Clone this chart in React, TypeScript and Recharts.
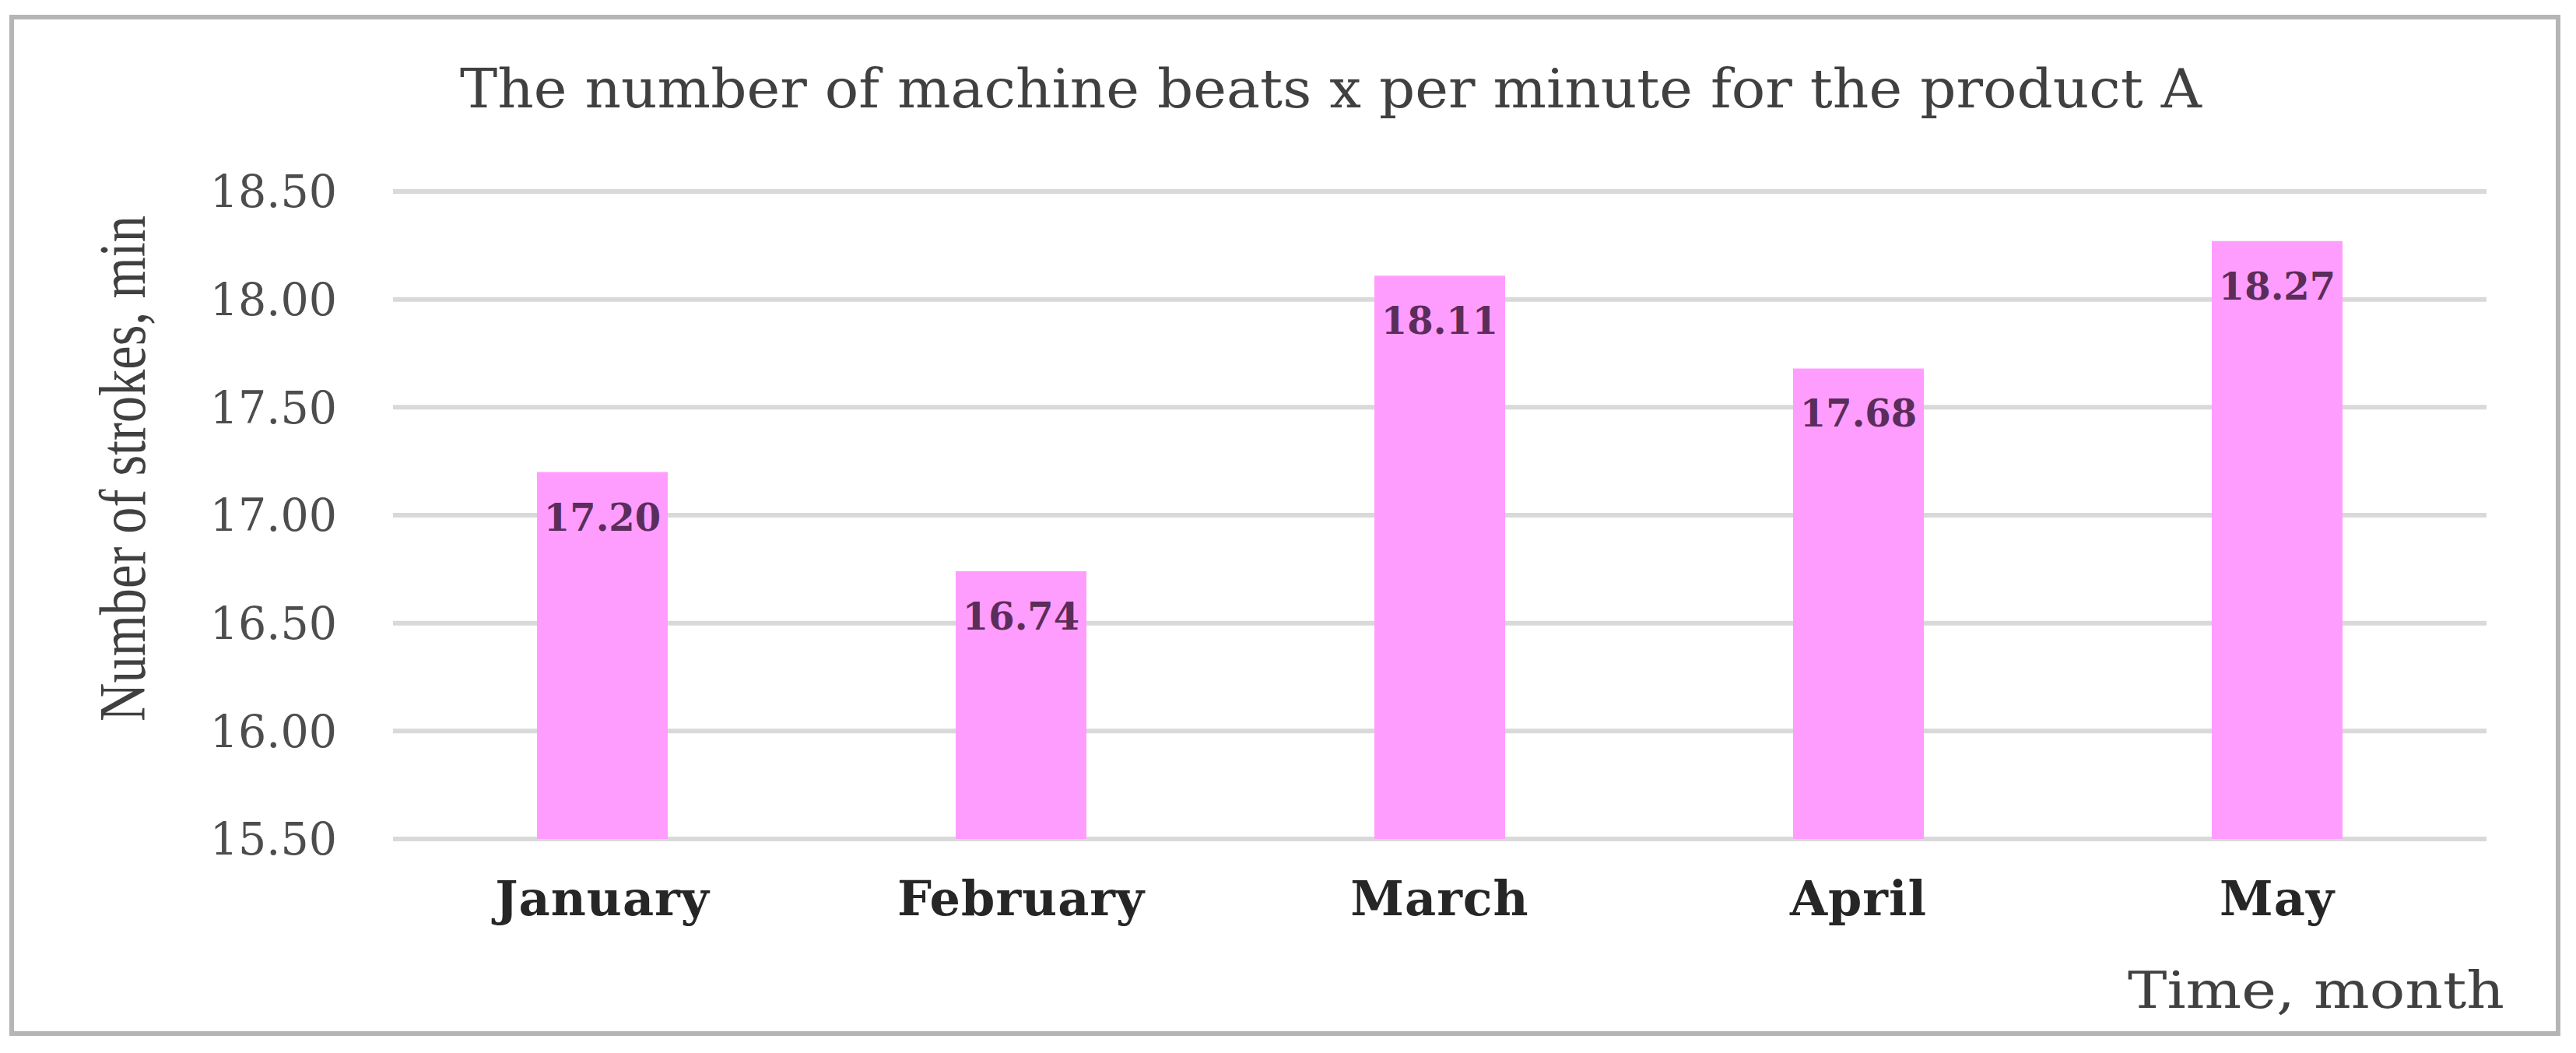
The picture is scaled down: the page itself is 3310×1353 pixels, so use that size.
import React from 'react';
import { BarChart, Bar, XAxis, YAxis, CartesianGrid, LabelList } from 'recharts';

const months = ['January', 'February', 'March', 'April', 'May'];
const strokes = [17.2, 16.74, 18.11, 17.68, 18.27];
const yTicks = [15.5, 16, 16.5, 17, 17.5, 18, 18.5];

const chartTitle = 'The number of machine beats x per minute for the product A';
const yTitle = 'Number of strokes, min';
const xTitle = 'Time, month';

const W = 3310;
const H = 1353;

const data = months.map((m, i) => ({ month: m, value: strokes[i] }));

const serif = '"Liberation Serif", "DejaVu Serif", serif';
const wideSerif = '"DejaVu Serif", serif';

// value printed inside the top of each bar
const renderValue = (props: any) => {
    const { x, y, width, value } = props;
    return (
        <text
            x={Number(x) + Number(width) / 2}
            y={Number(y) + 75}
            textAnchor="middle"
            fontFamily={wideSerif}
            fontWeight="bold"
            fontSize={48}
            fill="#5a2d5a"
        >
            {Number(value).toFixed(2)}
        </text>
    );
};

export default function App() {
    return (
        <div style={{ position: 'absolute', left: 0, top: 0, width: W, height: H, background: '#fff' }}>
            <div
                style={{
                    position: 'absolute',
                    left: 12,
                    top: 19,
                    width: 3278,
                    height: 1312,
                    border: '6px solid #b5b5b5',
                    boxSizing: 'border-box',
                }}
            />
            <BarChart
                width={W}
                height={H}
                data={data}
                margin={{ top: 246, right: 115, bottom: 175, left: 405 }}
                style={{ position: 'absolute', left: 0, top: 0 }}
            >
                <CartesianGrid vertical={false} stroke="#d9d9d9" strokeWidth={6} />
                <XAxis
                    dataKey="month"
                    height={100}
                    axisLine={false}
                    tickLine={false}
                    tickSize={0}
                    tickMargin={54}
                    tick={{ fill: '#262626', fontSize: 62, fontWeight: 'bold', fontFamily: wideSerif, letterSpacing: 1 }}
                />
                <YAxis
                    type="number"
                    width={100}
                    domain={[15.5, 18.5]}
                    ticks={yTicks}
                    interval={0}
                    axisLine={false}
                    tickLine={false}
                    tickSize={0}
                    tickMargin={72}
                    tickFormatter={(v: number) => v.toFixed(2)}
                    tick={{ fill: '#4d4d4d', fontSize: 57, fontFamily: wideSerif }}
                />
                <Bar dataKey="value" fill="#ff9dff" barSize={168} isAnimationActive={false}>
                    <LabelList dataKey="value" content={renderValue} />
                </Bar>
            </BarChart>
            <svg width={W} height={H} style={{ position: 'absolute', left: 0, top: 0, pointerEvents: 'none' }}>
                <text
                    x={591}
                    y={138}
                    fontFamily={wideSerif}
                    fontSize={70}
                    fill="#404040"
                    textLength={2238}
                    lengthAdjust="spacingAndGlyphs"
                >
                    {chartTitle}
                </text>
                <text
                    x={186}
                    y={602}
                    transform="rotate(-90, 186, 602)"
                    textAnchor="middle"
                    fontFamily={serif}
                    fontSize={84}
                    fill="#404040"
                    textLength={650}
                    lengthAdjust="spacingAndGlyphs"
                >
                    {yTitle}
                </text>
                <text
                    x={2734}
                    y={1295}
                    fontFamily={wideSerif}
                    fontSize={66}
                    fill="#404040"
                    textLength={484}
                    lengthAdjust="spacingAndGlyphs"
                >
                    {xTitle}
                </text>
            </svg>
        </div>
    );
}
